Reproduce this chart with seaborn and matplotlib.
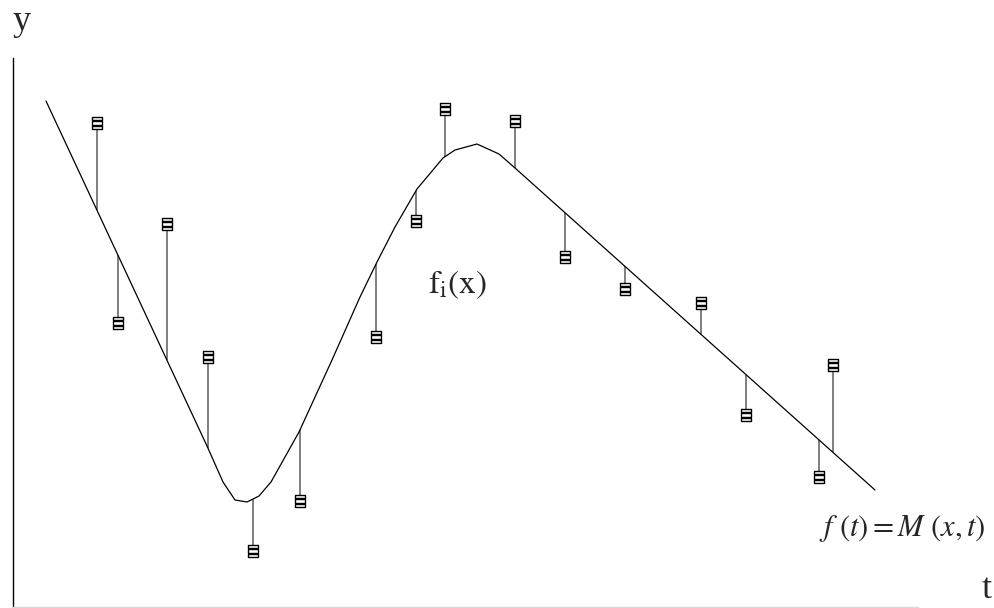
import numpy as np
import pandas as pd
import matplotlib
matplotlib.use("Agg")
import matplotlib.pyplot as plt
from matplotlib.path import Path
import seaborn as sns

# Model curve f(t) = M(x, t), sampled as a polyline
curve_t = [0.33, 1.94, 2.10, 2.22, 2.34, 2.46, 2.58, 2.86, 3.19, 3.47, 3.64,
           3.82, 4.04, 4.30, 4.42, 4.64, 4.86, 5.02, 8.62]
curve_y = [5.06, 1.61, 1.25, 1.07, 1.05, 1.11, 1.25, 1.75, 2.47, 3.10, 3.45,
           3.80, 4.18, 4.49, 4.57, 4.63, 4.53, 4.39, 1.17]

# Observations f_i(x)
obs_t = [0.84, 1.05, 1.54, 1.95, 2.40, 2.87, 3.63, 4.03, 4.32, 5.02, 5.52,
         6.12, 6.88, 7.33, 8.06, 8.20]
obs_y = [4.84, 2.84, 3.83, 2.50, 0.56, 1.06, 2.70, 3.86, 4.98, 4.86, 3.50,
         3.18, 3.04, 1.92, 1.30, 2.42]

axis_labels = ["y", "t"]
curve_label = r"$f\ (t) = M\ (x,t)$"
obs_label = r"$\mathrm{f_i(x)}$"

sns.set_style("white")
plt.rcParams["mathtext.fontset"] = "stix"
plt.rcParams["font.family"] = ["Liberation Serif", "DejaVu Serif"]

W, H = 995, 608
fig = plt.figure(figsize=(W / 100, H / 100), dpi=100)
ax = fig.add_axes([13 / W, 1 / H, 905 / W, 549 / H])

curve = pd.DataFrame({"t": curve_t, "y": curve_y})
obs = pd.DataFrame({"t": obs_t, "y": obs_y})
obs["model"] = np.interp(obs["t"], curve["t"], curve["y"])

# residual stems from the model curve to each observation
ax.vlines(obs["t"], obs["model"], obs["y"], color="#5c5c5c", lw=1.1, zorder=2)

sns.lineplot(data=curve, x="t", y="y", sort=False, estimator=None,
             color="black", lw=0.9, ax=ax, zorder=3)

# stacked-bar glyph used for the observation markers
verts, codes = [], []
for y0, y1 in [(0.2, 0.5), (-0.15, 0.15), (-0.5, -0.2)]:
    verts += [(-0.39, y0), (0.39, y0), (0.39, y1), (-0.39, y1), (-0.39, y0)]
    codes += [Path.MOVETO, Path.LINETO, Path.LINETO, Path.LINETO, Path.CLOSEPOLY]
glyph = Path(verts, codes)

sns.scatterplot(data=obs, x="t", y="y", marker=glyph, s=85, color="white",
                edgecolor="black", linewidth=1.0, ax=ax, zorder=4)

ax.set_xlim(0, 9.05)
ax.set_ylim(0, 5.49)
ax.set_xticks([])
ax.set_yticks([])
ax.set_xlabel("")
ax.set_ylabel("")
for side in ("top", "right"):
    ax.spines[side].set_visible(False)
ax.spines["left"].set_color("black")
ax.spines["left"].set_linewidth(1.0)
ax.spines["bottom"].set_color("#d8d8d8")
ax.spines["bottom"].set_linewidth(1.0)

ax.text(4.44, 3.22, obs_label, fontsize=24, ha="center", va="center")
ax.text(8.89, 0.79, curve_label, fontsize=22, ha="center", va="center")

fig.text(22 / W, 1 - 22 / H, axis_labels[0], fontsize=26, ha="center", va="center")
fig.text(987 / W, 1 - 590 / H, axis_labels[1], fontsize=26, ha="center", va="center")

fig.savefig("out.png", dpi=100)
